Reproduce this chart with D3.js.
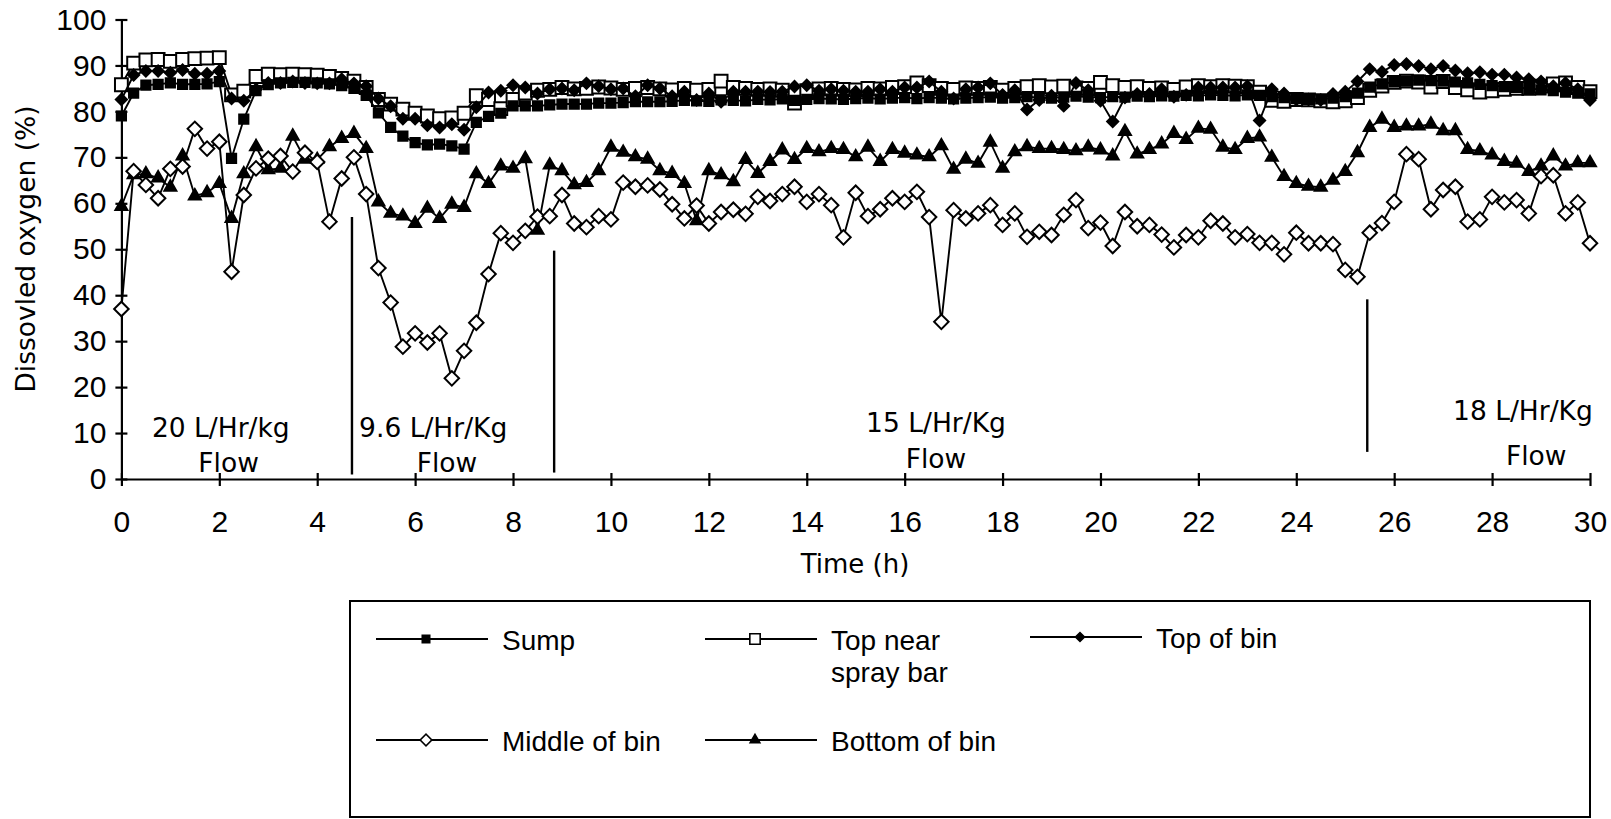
<!DOCTYPE html>
<html>
<head>
<meta charset="utf-8">
<script src="https://cdn.jsdelivr.net/npm/d3@7"></script>
<style>
body { margin: 0; background: #fff; }
svg { display: block; }
</style>
</head>
<body>
<div id="chart"></div>
<script>
// readings every 15 min, 0 to 30 h
const hours = d3.range(121).map(i => i * 0.25);

const sump = [79, 84, 85.7, 85.9, 86.2, 85.9, 85.9, 86, 86.5, 69.8,
  78.3, 84.5, 85.8, 86.2, 86.3, 86.3, 86.2, 86, 85.6, 85,
  83.5, 79.7, 76.5, 74.6, 73.2, 72.7, 72.9, 72.5, 71.8, 77.6,
  78.9, 79.6, 81.2, 81.2, 81.2, 81.4, 81.6, 81.6, 81.6, 81.8,
  81.8, 81.9, 82.1, 82.1, 82.1, 82.2, 82.4, 82.3, 82.2, 82.5,
  82.4, 82.3, 82.6, 82.5, 82.7, 82.4, 82.6, 82.8, 82.7, 82.6,
  82.8, 82.9, 82.7, 82.9, 83, 82.8, 83, 82.9, 82.7, 82.9,
  83, 83.1, 82.9, 83, 83.2, 83, 82.9, 83.1, 83.3, 83.1,
  83, 83.2, 83.1, 83.3, 83.2, 83.4, 83.3, 83.5, 83.4, 83.6,
  83.5, 83.4, 83.6, 83.5, 83.2, 83, 82.8, 82.6, 82.7, 82.9,
  83.2, 84, 85.3, 86, 86.4, 86.6, 86.8, 86.7, 86.6, 86.4,
  86.2, 85.9, 85.6, 85.4, 85.2, 85, 84.7, 84.5, 84.2, 84, 83.8];

const topNearSpray = [85.8, 90.5, 91.2, 91.3, 90.9, 91.3, 91.5, 91.6, 91.7, 83.6,
  84.4, 87.6, 88.1, 88, 88.1, 88, 87.9, 87.6, 87.2, 86.6,
  85.2, 82.6, 81.6, 80.5, 79.6, 79, 78.4, 78.6, 79.6, 83.4,
  82.6, 80.6, 82.6, 84, 84.6, 84.8, 85.2, 84.9, 85, 85.3,
  85.1, 84.8, 85, 85.2, 84.9, 84.7, 85, 84.6, 84.8, 86.6,
  85.2, 85, 84.8, 84.9, 84.6, 81.8, 84.5, 84.9, 85, 84.8,
  84.7, 85, 84.9, 85.2, 85.4, 86.2, 85.6, 85, 84.8, 85.1,
  85, 85.2, 84.6, 85, 85.4, 85.6, 85.3, 85.5, 85.1, 85,
  86.3, 85.6, 85.2, 85.4, 85, 85.1, 84.8, 85.3, 85.6, 85.4,
  85.6, 85.5, 85.4, 84.2, 82.4, 82.2, 82.6, 82.5, 82.3, 82.1,
  82.3, 83, 84.6, 85.5, 86.3, 86.6, 86.4, 85.3, 86.5, 85.2,
  84.7, 84.2, 84.5, 84.8, 85, 85, 85.5, 86, 86.2, 85.2, 84.3];

const topOfBin = [82.6, 87.9, 88.8, 88.8, 88.4, 89, 88.2, 88.2, 88.8, 82.8,
  82.3, 84.8, 86.2, 86.2, 86.5, 86.2, 86.1, 86.1, 87, 86.1,
  85.5, 82.8, 81.1, 78.4, 78.4, 77, 76.5, 77.2, 76, 80.9,
  84.1, 84.5, 85.7, 85.2, 83.9, 84.8, 85, 84.6, 86.1, 85.5,
  84.8, 85, 83.3, 85.7, 85, 83.3, 84.3, 82.5, 83.9, 82.1,
  84.3, 84.3, 84.3, 84.2, 84.3, 85.4, 85.7, 84.5, 84.8, 84.5,
  84.3, 84.3, 84.8, 84.3, 85.2, 85.2, 86.5, 84.3, 82.8, 84.8,
  85.2, 86.1, 83.6, 84.6, 80.4, 82.5, 83.4, 81.2, 86.2, 84.6,
  82.3, 77.8, 83, 83.8, 83.8, 84.8, 83.2, 83.6, 85.2, 85.2,
  85.2, 85.2, 85.5, 78, 84.8, 83.9, 82.6, 82.6, 82.5, 83.8,
  84.3, 86.5, 89.2, 88.6, 90.1, 90.3, 89.9, 89.2, 89.9, 88.9,
  88.3, 88.5, 88, 88, 87.4, 87, 86.5, 85.5, 86.2, 84.8, 82.5];

const middleOfBin = [37, 67, 64, 61.1, 67.5, 68, 76.2, 71.9, 73.4, 45.1,
  61.8, 67.6, 69.7, 70.3, 66.9, 71, 69, 56, 65.4, 70,
  62, 45.9, 38.4, 28.8, 31.7, 29.7, 31.7, 21.9, 27.9, 34,
  44.6, 53.5, 51.4, 54, 57.1, 57.2, 61.8, 55.6, 54.8, 57.2,
  56.5, 64.5, 63.6, 63.9, 63, 59.8, 56.7, 59.5, 55.6, 58.1,
  58.6, 57.7, 61.4, 60.5, 62, 63.6, 60.3, 62, 59.6, 52.6,
  62.3, 57.2, 58.7, 61.1, 60.3, 62.5, 57, 34.2, 58.5, 56.7,
  57.8, 59.6, 55.3, 57.8, 52.7, 53.8, 53.1, 57.5, 60.7, 54.6,
  55.8, 50.7, 58.1, 55, 55.3, 53.2, 50.4, 53.1, 52.6, 56.2,
  55.6, 52.6, 53.3, 51.4, 51.4, 48.9, 53.6, 51.3, 51.3, 51.1,
  45.5, 44, 53.6, 55.7, 60.3, 70.7, 69.6, 58.7, 62.9, 63.6,
  56, 56.5, 61.4, 60.2, 60.7, 57.8, 65.9, 66.1, 57.8, 60.2, 51.3];

const bottomOfBin = [59.3, 66.2, 66.4, 65.5, 63.5, 70.3, 61.6, 62.3, 64.3, 56.7,
  66.4, 72.3, 67.3, 67.6, 74.6, 69.6, 69.5, 72.3, 74.1, 75.2,
  71.9, 60.3, 57.8, 57.2, 55.6, 58.9, 56.7, 59.8, 59.1, 66.4,
  64.3, 68.1, 67.6, 69.7, 54.1, 68.3, 67.1, 64, 64.5, 67.1,
  72.2, 71.1, 70.1, 69.6, 67.1, 66.5, 64.3, 56.2, 67.1, 66.2,
  64.7, 69.5, 66.5, 69.1, 71.6, 69.5, 71.9, 71.2, 71.9, 71.7,
  70.1, 72.2, 69.1, 71.7, 70.9, 70.5, 70.1, 72.5, 67.4, 69.6,
  68.7, 73.3, 67.6, 71.2, 72.3, 71.9, 71.9, 71.7, 71.4, 72.2,
  71.6, 70.3, 75.6, 70.7, 71.7, 72.9, 75.2, 73.9, 76.3, 76.1,
  72.2, 71.7, 74.1, 74.4, 70, 65.8, 64.3, 63.7, 63.5, 65,
  66.9, 71, 76.5, 78.3, 76.5, 76.8, 76.8, 77.2, 75.8, 75.8,
  71.7, 71.4, 70.5, 69.1, 68.7, 66.9, 68.1, 70.3, 68.1, 68.8, 68.8];

// flow rate changes: time and the span of the marker line (% values)
const flowChanges = [
  { t: 4.71, from: 1, to: 57 },
  { t: 8.84, from: 1.4, to: 49.7 },
  { t: 25.45, from: 5.9, to: 39.1 }
];
const flowLabels = [
  { text: "20 L/Hr/kg", t: 2.03, v: 9.1 },
  { text: "Flow", t: 2.19, v: 1.5 },
  { text: "9.6 L/Hr/Kg", t: 6.37, v: 9.1 },
  { text: "Flow", t: 6.65, v: 1.5 },
  { text: "15 L/Hr/Kg", t: 16.64, v: 10.3 },
  { text: "Flow", t: 16.64, v: 2.4 },
  { text: "18 L/Hr/Kg", t: 28.63, v: 12.8 },
  { text: "Flow", t: 28.9, v: 3 }
];

const yTicks = d3.range(0, 101, 10);
const xTicks = d3.range(0, 31, 2);

const svg = d3.select("#chart")
  .append("svg")
  .attr("width", 1611)
  .attr("height", 819);

const x = d3.scaleLinear().domain([0, 30]).range([121.4, 1590]);
const y = d3.scaleLinear().domain([0, 100]).range([479, 19.5]);

const tickFont = "'Liberation Sans', Arial, sans-serif";
const labelFont = "'DejaVu Sans', Verdana, sans-serif";

// axes
const yAxis = svg.append("g")
  .attr("transform", `translate(${x(0)},0)`)
  .call(d3.axisLeft(y).tickValues(yTicks).tickSize(6).tickSizeOuter(0).tickPadding(9));
yAxis.selectAll(".tick line").attr("x1", 6);
const xAxis = svg.append("g")
  .attr("transform", `translate(0,${y(0)})`)
  .call(d3.axisBottom(x).tickValues(xTicks).tickSize(7).tickSizeOuter(0));
xAxis.selectAll(".tick line").attr("y1", -6);
xAxis.selectAll(".tick text").attr("y", 53).attr("dy", 0);

svg.selectAll(".domain, .tick line").attr("stroke", "#000").attr("stroke-width", 2.2);
svg.selectAll(".tick text")
  .attr("fill", "#000")
  .style("font-family", tickFont)
  .style("font-size", "30px");

svg.append("text")
  .attr("transform", `translate(35,249) rotate(-90)`)
  .attr("text-anchor", "middle")
  .style("font-family", labelFont)
  .style("font-size", "26.5px")
  .text("Dissovled oxygen (%)");

svg.append("text")
  .attr("x", 855).attr("y", 573)
  .attr("text-anchor", "middle")
  .style("font-family", labelFont)
  .style("font-size", "26px")
  .text("Time (h)");

// flow change markers
svg.selectAll(".flow-line")
  .data(flowChanges)
  .join("line")
  .attr("class", "flow-line")
  .attr("x1", d => x(d.t)).attr("x2", d => x(d.t))
  .attr("y1", d => y(d.from)).attr("y2", d => y(d.to))
  .attr("stroke", "#000")
  .attr("stroke-width", 2.4);

svg.selectAll(".flow-label")
  .data(flowLabels)
  .join("text")
  .attr("class", "flow-label")
  .attr("x", d => x(d.t))
  .attr("y", d => y(d.v))
  .attr("text-anchor", "middle")
  .style("font-family", labelFont)
  .style("font-size", "26.5px")
  .text(d => d.text);

// series
const series = [
  { name: "Top near spray bar", values: topNearSpray, shape: d3.symbolSquare, size: 165, fill: "#fff", rot: 0 },
  { name: "Sump", values: sump, shape: d3.symbolSquare, size: 85, fill: "#000", rot: 0 },
  { name: "Top of bin", values: topOfBin, shape: d3.symbolSquare, size: 62, fill: "#000", rot: 45 },
  { name: "Bottom of bin", values: bottomOfBin, shape: d3.symbolTriangle, size: 62, fill: "#000", rot: 0 },
  { name: "Middle of bin", values: middleOfBin, shape: d3.symbolSquare, size: 105, fill: "#fff", rot: 45 }
];

const line = d3.line()
  .x((d, i) => x(hours[i]))
  .y(d => y(d));

series.forEach(s => {
  const g = svg.append("g");
  g.append("path")
    .datum(s.values)
    .attr("d", line)
    .attr("fill", "none")
    .attr("stroke", "#000")
    .attr("stroke-width", 1.9);
  g.selectAll("path.mk")
    .data(s.values)
    .join("path")
    .attr("class", "mk")
    .attr("d", d3.symbol().type(s.shape).size(s.size))
    .attr("transform", (d, i) => `translate(${x(hours[i])},${y(d)}) rotate(${s.rot})`)
    .attr("fill", s.fill)
    .attr("stroke", "#000")
    .attr("stroke-width", 2);
});

// legend
const legend = svg.append("g");
legend.append("rect")
  .attr("x", 350).attr("y", 601)
  .attr("width", 1240).attr("height", 216)
  .attr("fill", "none")
  .attr("stroke", "#000")
  .attr("stroke-width", 2);

const legendItems = [
  { s: series[1], x: 376, y: 639, lines: ["Sump"] },
  { s: series[0], x: 705, y: 639, lines: ["Top near", "spray bar"] },
  { s: series[2], x: 1030, y: 637, lines: ["Top of bin"] },
  { s: series[4], x: 376, y: 740, lines: ["Middle of bin"] },
  { s: series[3], x: 705, y: 740, lines: ["Bottom of bin"] }
];

legendItems.forEach(it => {
  const g = legend.append("g").attr("transform", `translate(${it.x},${it.y})`);
  g.append("line")
    .attr("x1", 0).attr("x2", 112)
    .attr("stroke", "#000").attr("stroke-width", 1.9);
  g.append("path")
    .attr("d", d3.symbol().type(it.s.shape).size(it.s.size * 0.65))
    .attr("transform", `translate(50,0) rotate(${it.s.rot})`)
    .attr("fill", it.s.fill)
    .attr("stroke", "#000")
    .attr("stroke-width", 1.6);
  const t = g.append("text")
    .attr("x", 126).attr("y", 11)
    .style("font-family", tickFont)
    .style("font-size", "28px");
  it.lines.forEach((ln, i) => {
    t.append("tspan").attr("x", 126).attr("dy", i === 0 ? 0 : 32).text(ln);
  });
});
</script>
</body>
</html>
